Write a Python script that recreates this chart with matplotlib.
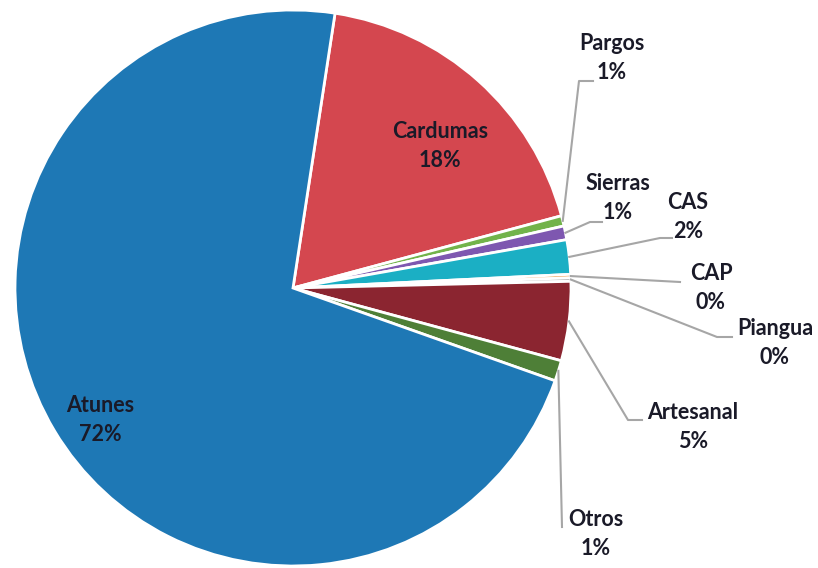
import matplotlib.pyplot as plt
import numpy as np

# data (percent of catch)
categories = ['Cardumas', 'Pargos', 'Sierras', 'CAS', 'CAP', 'Piangua', 'Artesanal', 'Otros', 'Atunes']
values = [18.4, 0.6, 0.8, 2.0, 0.2, 0.2, 4.6, 1.2, 72.0]
colors = ['#D4474F', '#72B34A', '#7E57B0', '#1BAFC4', '#E8892B', '#A5A5A5', '#8B2530', '#4E7F37', '#1E78B5']

W, H = 818, 568
cx, cy, R = 293, H - 288, 278

# label centre, plus elbow and end of leader line
label_pos = {
    'Cardumas': (440, 146), 'Atunes': (100, 420),
    'Pargos': (612, 58), 'Sierras': (618, 198), 'CAS': (688, 217),
    'CAP': (711, 288), 'Piangua': (775, 343), 'Artesanal': (693, 427),
    'Otros': (596, 534),
}
leaders = {
    'Pargos': [(579, 81), (593, 81)],
    'Sierras': [(590, 222), (602, 222)],
    'CAS': [(660, 238), (672, 238)],
    'CAP': [(680, 282)],
    'Piangua': [(717, 337), (732, 337)],
    'Artesanal': [(628, 420), (642, 420)],
    'Otros': [(562, 527)],
}

fig = plt.figure(figsize=(8.18, 5.68), dpi=100)
ax = fig.add_axes([0, 0, 1, 1])

wedges, _ = ax.pie(values, colors=colors, startangle=81.3, counterclock=False,
                   center=(cx, cy), radius=R, frame=True,
                   wedgeprops=dict(edgecolor='white', linewidth=2))
ax.set_xlim(0, W)
ax.set_ylim(0, H)
ax.set_aspect('equal')
ax.axis('off')

for w, name, v in zip(wedges, categories, values):
    lx, ly = label_pos[name]
    ax.text(lx, H - ly, f'{name}\n{round(v):.0f}%', ha='center', va='center',
            fontsize=15.5, fontweight='bold', family='Lato', color='#1a1a28',
            linespacing=1.45)
    if name in leaders:
        mid = np.deg2rad((w.theta1 + w.theta2) / 2)
        xs = [cx + R * np.cos(mid)] + [p[0] for p in leaders[name]]
        ys = [cy + R * np.sin(mid)] + [H - p[1] for p in leaders[name]]
        ax.plot(xs, ys, color='#A6A6A6', linewidth=1.5)

fig.savefig('out.png', dpi=100)
